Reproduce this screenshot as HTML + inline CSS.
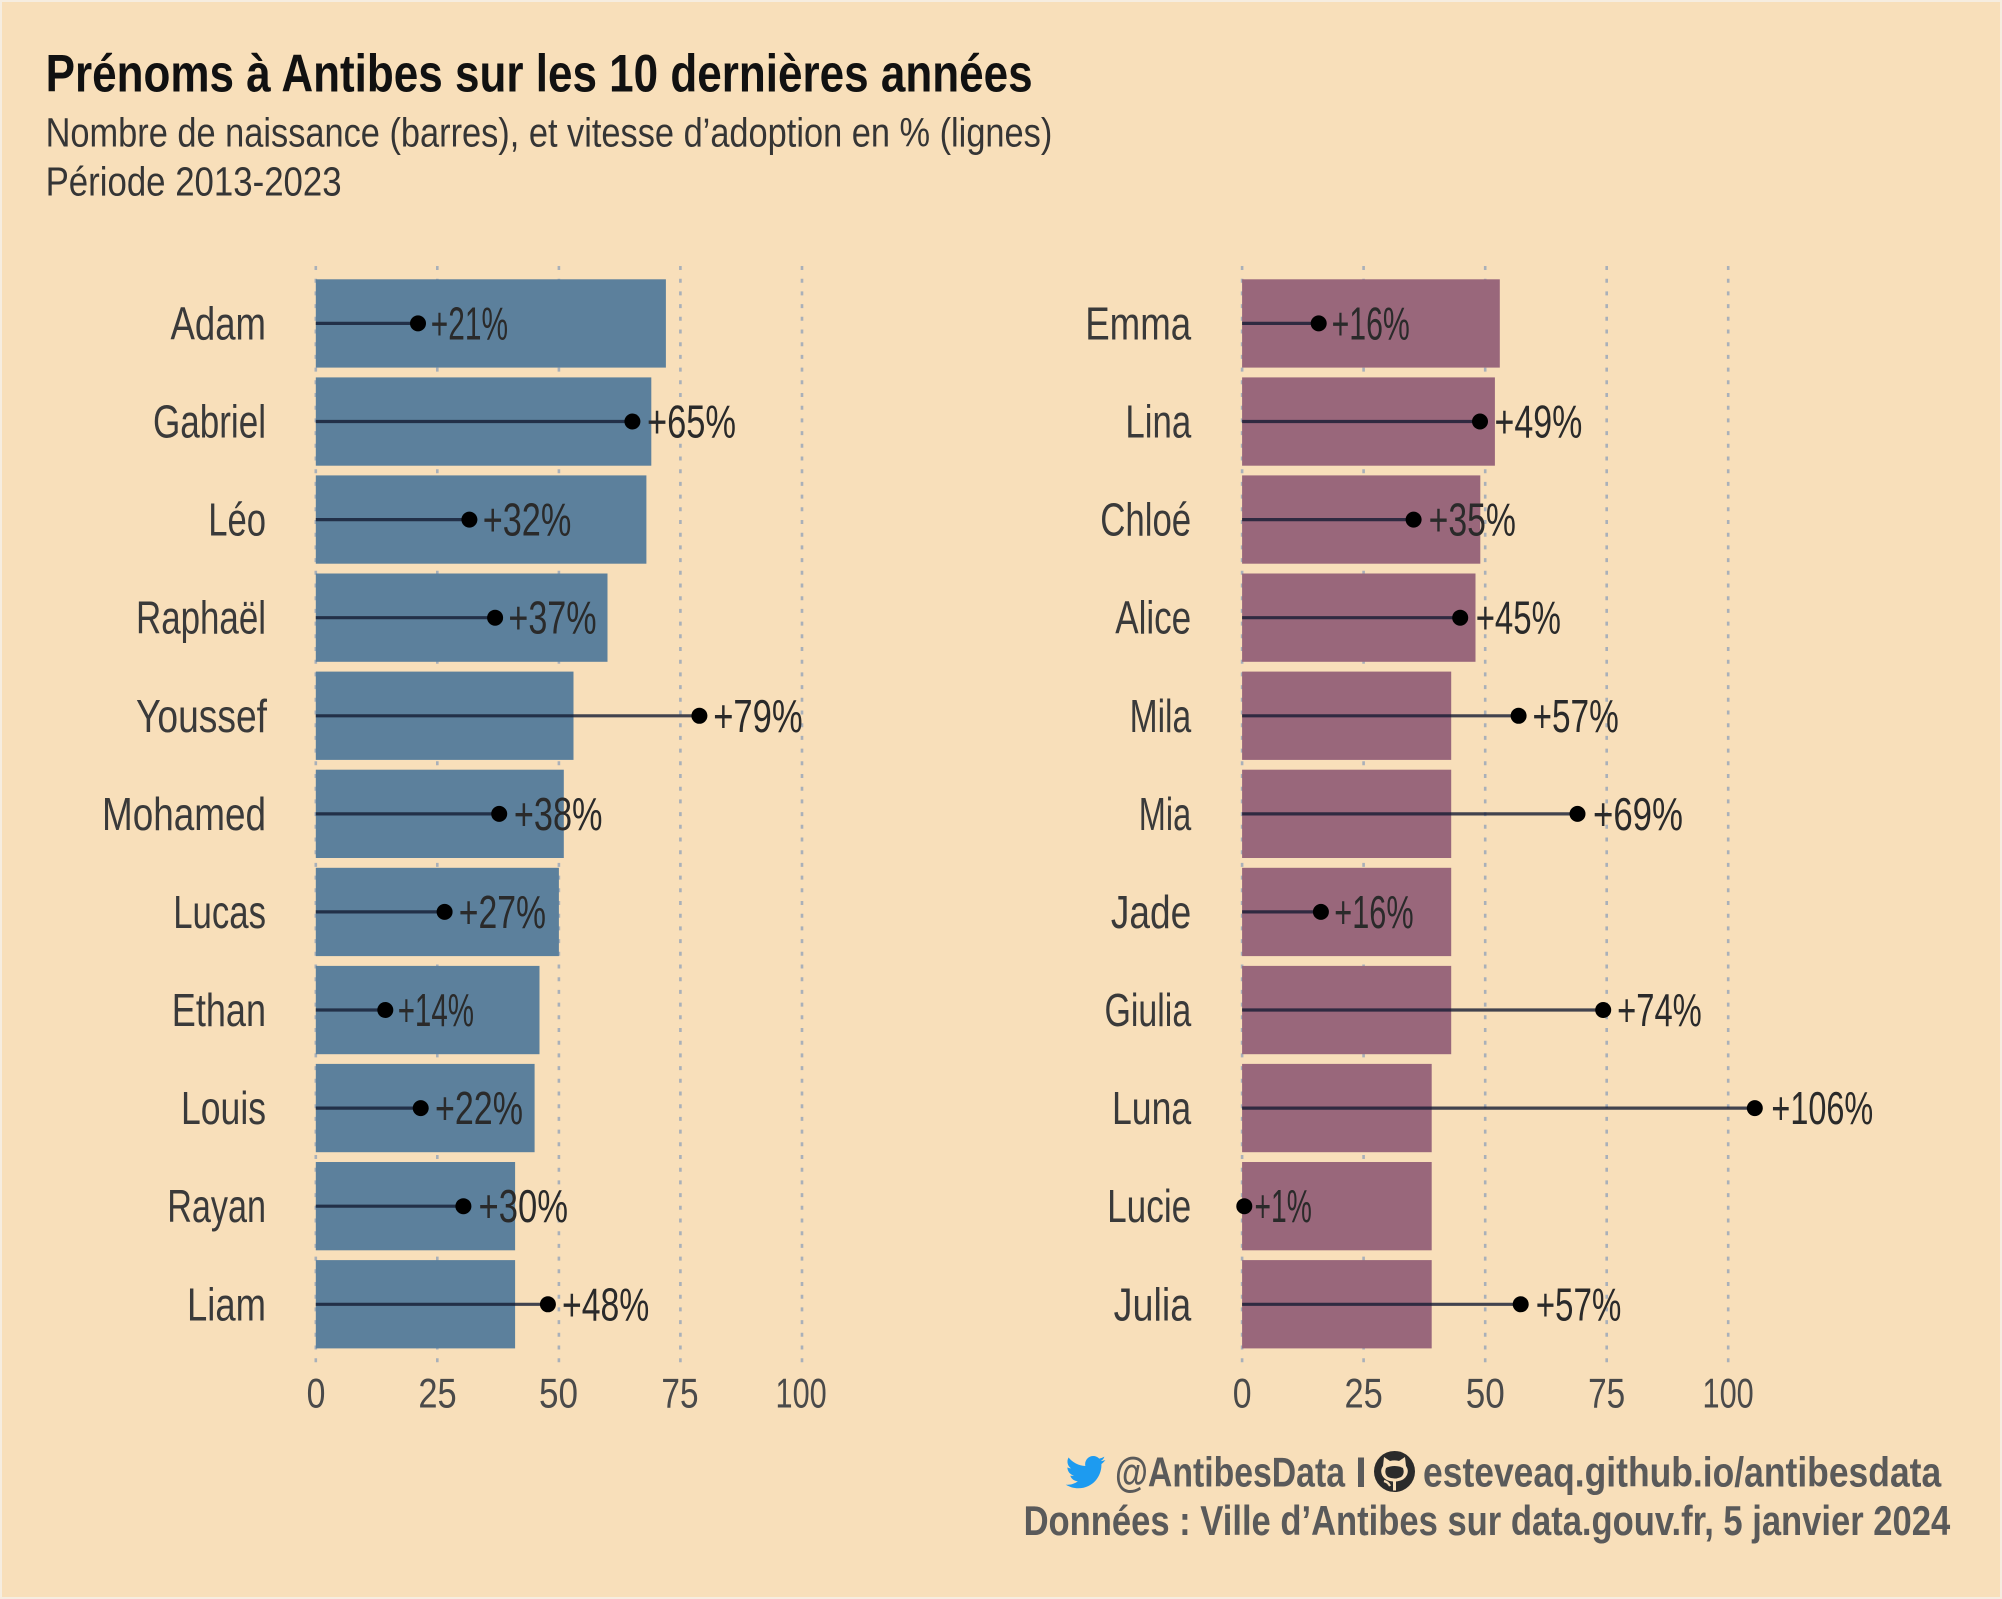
<!DOCTYPE html>
<html>
<head>
<meta charset="utf-8">
<style>
html,body{margin:0;padding:0;background:#f8dfba;}
svg{display:block;}
text{font-family:"Liberation Sans",sans-serif;}
</style>
</head>
<body>
<svg width="2002" height="1599" viewBox="0 0 2002 1599" xmlns="http://www.w3.org/2000/svg">
<rect x="0" y="0" width="2002" height="1599" fill="#f8dfba"/>
<rect x="1" y="1" width="2000" height="1597" fill="none" stroke="#f6ede0" stroke-width="2"/>

<!-- Title -->
<text x="45.6" y="91.7" font-size="53" font-weight="bold" fill="#111" textLength="987" lengthAdjust="spacingAndGlyphs">Prénoms à Antibes sur les 10 dernières années</text>
<text x="45.6" y="146.7" font-size="41" fill="#353535" textLength="1006.7" lengthAdjust="spacingAndGlyphs">Nombre de naissance (barres), et vitesse d’adoption en % (lignes)</text>
<text x="45.6" y="195.7" font-size="41" fill="#353535" textLength="296" lengthAdjust="spacingAndGlyphs">Période 2013-2023</text>

<!-- Grid lines -->
<g stroke="#a9b0b9" stroke-width="2.6" stroke-dasharray="4 8.7">
<line x1="315.8" y1="266" x2="315.8" y2="1363"/>
<line x1="437.3" y1="266" x2="437.3" y2="1363"/>
<line x1="558.9" y1="266" x2="558.9" y2="1363"/>
<line x1="680.4" y1="266" x2="680.4" y2="1363"/>
<line x1="802.0" y1="266" x2="802.0" y2="1363"/>
<line x1="1242.1" y1="266" x2="1242.1" y2="1363"/>
<line x1="1363.6" y1="266" x2="1363.6" y2="1363"/>
<line x1="1485.2" y1="266" x2="1485.2" y2="1363"/>
<line x1="1606.7" y1="266" x2="1606.7" y2="1363"/>
<line x1="1728.2" y1="266" x2="1728.2" y2="1363"/>
</g>

<!-- Left bars -->
<g fill="#5c809c">
<rect x="315.8" y="279.3" width="350.1" height="88.3"/>
<rect x="315.8" y="377.4" width="335.5" height="88.3"/>
<rect x="315.8" y="475.4" width="330.6" height="88.3"/>
<rect x="315.8" y="573.5" width="291.7" height="88.3"/>
<rect x="315.8" y="671.6" width="257.7" height="88.3"/>
<rect x="315.8" y="769.7" width="248.0" height="88.3"/>
<rect x="315.8" y="867.8" width="243.1" height="88.3"/>
<rect x="315.8" y="965.9" width="223.7" height="88.3"/>
<rect x="315.8" y="1063.9" width="218.8" height="88.3"/>
<rect x="315.8" y="1162.0" width="199.3" height="88.3"/>
<rect x="315.8" y="1260.1" width="199.3" height="88.3"/>
</g>

<!-- Right bars -->
<g fill="#99677b">
<rect x="1242.1" y="279.3" width="257.7" height="88.3"/>
<rect x="1242.1" y="377.4" width="252.8" height="88.3"/>
<rect x="1242.1" y="475.4" width="238.2" height="88.3"/>
<rect x="1242.1" y="573.5" width="233.4" height="88.3"/>
<rect x="1242.1" y="671.6" width="209.1" height="88.3"/>
<rect x="1242.1" y="769.7" width="209.1" height="88.3"/>
<rect x="1242.1" y="867.8" width="209.1" height="88.3"/>
<rect x="1242.1" y="965.9" width="209.1" height="88.3"/>
<rect x="1242.1" y="1063.9" width="189.6" height="88.3"/>
<rect x="1242.1" y="1162.0" width="189.6" height="88.3"/>
<rect x="1242.1" y="1260.1" width="189.6" height="88.3"/>
</g>

<!-- Lines -->
<g stroke="#141c33" stroke-opacity="0.8" stroke-width="3.2">
<line x1="315.8" y1="323.4" x2="418.0" y2="323.4"/>
<line x1="315.8" y1="421.5" x2="632.4" y2="421.5"/>
<line x1="315.8" y1="519.6" x2="469.4" y2="519.6"/>
<line x1="315.8" y1="617.7" x2="495.1" y2="617.7"/>
<line x1="315.8" y1="715.8" x2="699.4" y2="715.8"/>
<line x1="315.8" y1="813.9" x2="499.2" y2="813.9"/>
<line x1="315.8" y1="911.9" x2="444.6" y2="911.9"/>
<line x1="315.8" y1="1010.0" x2="385.3" y2="1010.0"/>
<line x1="315.8" y1="1108.1" x2="420.7" y2="1108.1"/>
<line x1="315.8" y1="1206.2" x2="463.4" y2="1206.2"/>
<line x1="315.8" y1="1304.3" x2="547.9" y2="1304.3"/>

<line x1="1242.1" y1="323.4" x2="1318.7" y2="323.4"/>
<line x1="1242.1" y1="421.5" x2="1480.0" y2="421.5"/>
<line x1="1242.1" y1="519.6" x2="1413.6" y2="519.6"/>
<line x1="1242.1" y1="617.7" x2="1460.2" y2="617.7"/>
<line x1="1242.1" y1="715.8" x2="1518.6" y2="715.8"/>
<line x1="1242.1" y1="813.9" x2="1577.5" y2="813.9"/>
<line x1="1242.1" y1="911.9" x2="1320.9" y2="911.9"/>
<line x1="1242.1" y1="1010.0" x2="1603.2" y2="1010.0"/>
<line x1="1242.1" y1="1108.1" x2="1754.8" y2="1108.1"/>
<line x1="1242.1" y1="1206.2" x2="1244.3" y2="1206.2"/>
<line x1="1242.1" y1="1304.3" x2="1520.7" y2="1304.3"/>
</g>

<!-- Dots -->
<g fill="#000">
<circle cx="418.0" cy="323.4" r="8"/>
<circle cx="632.4" cy="421.5" r="8"/>
<circle cx="469.4" cy="519.6" r="8"/>
<circle cx="495.1" cy="617.7" r="8"/>
<circle cx="699.4" cy="715.8" r="8"/>
<circle cx="499.2" cy="813.9" r="8"/>
<circle cx="444.6" cy="911.9" r="8"/>
<circle cx="385.3" cy="1010.0" r="8"/>
<circle cx="420.7" cy="1108.1" r="8"/>
<circle cx="463.4" cy="1206.2" r="8"/>
<circle cx="547.9" cy="1304.3" r="8"/>

<circle cx="1318.7" cy="323.4" r="8"/>
<circle cx="1480.0" cy="421.5" r="8"/>
<circle cx="1413.6" cy="519.6" r="8"/>
<circle cx="1460.2" cy="617.7" r="8"/>
<circle cx="1518.6" cy="715.8" r="8"/>
<circle cx="1577.5" cy="813.9" r="8"/>
<circle cx="1320.9" cy="911.9" r="8"/>
<circle cx="1603.2" cy="1010.0" r="8"/>
<circle cx="1754.8" cy="1108.1" r="8"/>
<circle cx="1244.3" cy="1206.2" r="8"/>
<circle cx="1520.7" cy="1304.3" r="8"/>
</g>

<!-- Name labels left -->
<g font-size="46" fill="#3a3a3a">
<text x="170.5" y="339.4" textLength="95.5" lengthAdjust="spacingAndGlyphs">Adam</text>
<text x="153" y="437.5" textLength="113" lengthAdjust="spacingAndGlyphs">Gabriel</text>
<text x="208.2" y="535.6" textLength="57.8" lengthAdjust="spacingAndGlyphs">Léo</text>
<text x="136" y="633.7" textLength="130" lengthAdjust="spacingAndGlyphs">Raphaël</text>
<text x="136" y="731.8" textLength="131" lengthAdjust="spacingAndGlyphs">Youssef</text>
<text x="102" y="829.9" textLength="164" lengthAdjust="spacingAndGlyphs">Mohamed</text>
<text x="173.2" y="927.9" textLength="92.8" lengthAdjust="spacingAndGlyphs">Lucas</text>
<text x="171.8" y="1026" textLength="94.2" lengthAdjust="spacingAndGlyphs">Ethan</text>
<text x="181" y="1124.1" textLength="85" lengthAdjust="spacingAndGlyphs">Louis</text>
<text x="167.2" y="1222.2" textLength="98.8" lengthAdjust="spacingAndGlyphs">Rayan</text>
<text x="187" y="1320.3" textLength="79" lengthAdjust="spacingAndGlyphs">Liam</text>
</g>

<!-- Name labels right -->
<g font-size="46" fill="#3a3a3a">
<text x="1085.2" y="339.4" textLength="106" lengthAdjust="spacingAndGlyphs">Emma</text>
<text x="1125.4" y="437.5" textLength="65.8" lengthAdjust="spacingAndGlyphs">Lina</text>
<text x="1100.2" y="535.6" textLength="91" lengthAdjust="spacingAndGlyphs">Chloé</text>
<text x="1115.2" y="633.7" textLength="76" lengthAdjust="spacingAndGlyphs">Alice</text>
<text x="1129.6" y="731.8" textLength="61.6" lengthAdjust="spacingAndGlyphs">Mila</text>
<text x="1138.8" y="829.9" textLength="52.4" lengthAdjust="spacingAndGlyphs">Mia</text>
<text x="1110.9" y="927.9" textLength="80.3" lengthAdjust="spacingAndGlyphs">Jade</text>
<text x="1104.5" y="1026" textLength="86.7" lengthAdjust="spacingAndGlyphs">Giulia</text>
<text x="1112" y="1124.1" textLength="79.2" lengthAdjust="spacingAndGlyphs">Luna</text>
<text x="1107.1" y="1222.2" textLength="84.1" lengthAdjust="spacingAndGlyphs">Lucie</text>
<text x="1113.6" y="1320.3" textLength="77.6" lengthAdjust="spacingAndGlyphs">Julia</text>
</g>

<!-- Percent labels -->
<g font-size="46" fill="#2a2a2a">
<text x="430.8" y="339.4" textLength="77.2" lengthAdjust="spacingAndGlyphs">+21%</text>
<text x="647" y="437.5" textLength="89" lengthAdjust="spacingAndGlyphs">+65%</text>
<text x="482.7" y="535.6" textLength="88.6" lengthAdjust="spacingAndGlyphs">+32%</text>
<text x="508.4" y="633.7" textLength="88.2" lengthAdjust="spacingAndGlyphs">+37%</text>
<text x="713.2" y="731.8" textLength="89.5" lengthAdjust="spacingAndGlyphs">+79%</text>
<text x="513.9" y="829.9" textLength="88.6" lengthAdjust="spacingAndGlyphs">+38%</text>
<text x="458.8" y="927.9" textLength="87.2" lengthAdjust="spacingAndGlyphs">+27%</text>
<text x="397.7" y="1026" textLength="76.3" lengthAdjust="spacingAndGlyphs">+14%</text>
<text x="435" y="1124.1" textLength="88" lengthAdjust="spacingAndGlyphs">+22%</text>
<text x="478.5" y="1222.2" textLength="89.5" lengthAdjust="spacingAndGlyphs">+30%</text>
<text x="562" y="1320.3" textLength="87.3" lengthAdjust="spacingAndGlyphs">+48%</text>

<text x="1331.6" y="339.4" textLength="78.2" lengthAdjust="spacingAndGlyphs">+16%</text>
<text x="1494.5" y="437.5" textLength="87.8" lengthAdjust="spacingAndGlyphs">+49%</text>
<text x="1428.6" y="535.6" textLength="87.3" lengthAdjust="spacingAndGlyphs">+35%</text>
<text x="1475.7" y="633.7" textLength="85.2" lengthAdjust="spacingAndGlyphs">+45%</text>
<text x="1532.5" y="731.8" textLength="86.3" lengthAdjust="spacingAndGlyphs">+57%</text>
<text x="1593" y="829.9" textLength="90" lengthAdjust="spacingAndGlyphs">+69%</text>
<text x="1334.3" y="927.9" textLength="79.3" lengthAdjust="spacingAndGlyphs">+16%</text>
<text x="1617.1" y="1026" textLength="84.7" lengthAdjust="spacingAndGlyphs">+74%</text>
<text x="1771.4" y="1124.1" textLength="101.8" lengthAdjust="spacingAndGlyphs">+106%</text>
<text x="1254.5" y="1222.2" textLength="57.3" lengthAdjust="spacingAndGlyphs">+1%</text>
<text x="1535.7" y="1320.3" textLength="85.7" lengthAdjust="spacingAndGlyphs">+57%</text>
</g>

<!-- Tick labels -->
<g font-size="42" fill="#4a4a4a">
<text x="306.6" y="1407.3" textLength="18.8" lengthAdjust="spacingAndGlyphs">0</text>
<text x="418.4" y="1407.3" textLength="38.3" lengthAdjust="spacingAndGlyphs">25</text>
<text x="539" y="1407.3" textLength="39" lengthAdjust="spacingAndGlyphs">50</text>
<text x="661.4" y="1407.3" textLength="37.1" lengthAdjust="spacingAndGlyphs">75</text>
<text x="775.5" y="1407.3" textLength="51.2" lengthAdjust="spacingAndGlyphs">100</text>

<text x="1232.7" y="1407.3" textLength="18.8" lengthAdjust="spacingAndGlyphs">0</text>
<text x="1344.5" y="1407.3" textLength="38.3" lengthAdjust="spacingAndGlyphs">25</text>
<text x="1465.7" y="1407.3" textLength="39" lengthAdjust="spacingAndGlyphs">50</text>
<text x="1588.1" y="1407.3" textLength="37.1" lengthAdjust="spacingAndGlyphs">75</text>
<text x="1702.5" y="1407.3" textLength="51.2" lengthAdjust="spacingAndGlyphs">100</text>
</g>

<!-- Caption -->
<g transform="translate(1065.8,1452.3) scale(0.0775)">
<path fill="#1d9bf0" d="M459.37 151.716c.325 4.548.325 9.097.325 13.645 0 138.72-105.583 298.558-298.558 298.558-59.452 0-114.68-17.219-161.137-47.106 8.447.974 16.568 1.299 25.34 1.299 49.055 0 94.213-16.568 130.274-44.832-46.132-.975-84.792-31.188-98.112-72.772 6.498.974 12.995 1.624 19.818 1.624 9.421 0 18.843-1.3 27.614-3.573-48.081-9.747-84.143-51.98-84.143-102.985v-1.299c13.969 7.797 30.214 12.67 47.431 13.319-28.264-18.843-46.781-51.005-46.781-87.391 0-19.492 5.197-37.36 14.294-52.954 51.655 63.675 129.3 105.258 216.365 109.807-1.624-7.797-2.599-15.918-2.599-24.040 0-57.828 46.782-104.934 104.934-104.934 30.213 0 57.502 12.67 76.67 33.137 23.715-4.548 46.456-13.32 66.599-25.34-7.798 24.366-24.366 44.833-46.132 57.827 21.117-2.273 41.584-8.122 60.426-16.243-14.292 20.791-32.161 39.308-52.628 54.253z"/>
</g>
<g>
<circle cx="1394.5" cy="1471.5" r="20.5" fill="#2b2b2b"/>
<path fill="#f8dfba" d="M1383 1466 l1-9 l6 4 q4.5-1.2 9 0 l6-4 l1 9 q3 4 1 9 q-3 6-11 6.5 l0 9 l-3 0 l0-9 q-8-0.5-11-6.5 q-2-5 1-9z"/>
<path fill="#2b2b2b" d="M1386 1468 q8.5 -4 17 0 q2 6-2 9 q-6.5 3-13 0 q-4-3-2-9z"/>
<path fill="none" stroke="#f8dfba" stroke-width="2.2" d="M1384 1481 q4 1 6 5"/>
</g>
<g font-size="42" font-weight="bold" fill="#5a5a5a">
<text x="1115" y="1486.7" textLength="230" lengthAdjust="spacingAndGlyphs">@AntibesData</text>
<rect x="1358" y="1457.5" width="6" height="29.5" fill="#5a5a5a"/>
<text x="1423" y="1486.7" textLength="518.2" lengthAdjust="spacingAndGlyphs">esteveaq.github.io/antibesdata</text>
<text x="1023.6" y="1535" textLength="926.6" lengthAdjust="spacingAndGlyphs">Données : Ville d’Antibes sur data.gouv.fr, 5 janvier 2024</text>
</g>
</svg>
</body>
</html>
